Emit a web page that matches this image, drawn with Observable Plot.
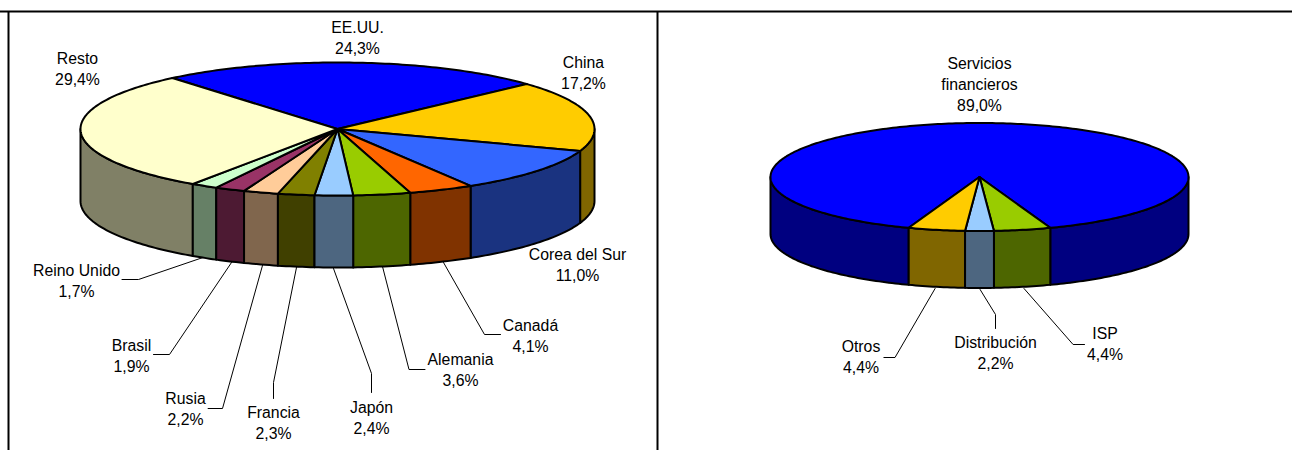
<!DOCTYPE html>
<html>
<head>
<meta charset="utf-8">
<style>html,body{margin:0;padding:0;background:#fff}svg{display:block}</style>
<script src="https://cdn.jsdelivr.net/npm/d3@7"></script>
<script src="https://cdn.jsdelivr.net/npm/@observablehq/plot@0.6"></script>
</head>
<body>
<div id="chart"></div>
<script>
// Data
const countryNames = ["EE.UU.","China","Corea del Sur","Canadá","Alemania","Japón","Francia","Rusia","Brasil","Reino Unido","Resto"];
const countryValues = [24.3,17.2,11.0,4.1,3.6,2.4,2.3,2.2,1.9,1.7,29.4];
const countryColors = ["#0000FF","#FFCC00","#3366FF","#FF6600","#99CC00","#99CCFF","#808000","#FFCC99","#993366","#CCFFCC","#FFFFCC"];
const sectorNames = ["Servicios\nfinancieros","ISP","Distribución","Otros"];
const sectorValues = [89.0,4.4,2.2,4.4];
const sectorColors = ["#0000FF","#99CC00","#99CCFF","#FFCC00"];

// Layout (not data)
const W = 1292, H = 450;
const leftPie  = {cx:337, cy:128.5, rx:257, ry:66.5, depth:72, start:320};
const rightPie = {cx:979, cy:176.5, rx:209, ry:54,   depth:57, start:199.8};
const countryLabelPos = [[357,36],[583,71],[577,263],[530,334],[460,368],[371,416],[273,421],[185,407],[131,354],[76,279],[77,67]];
const sectorLabelPos  = [[979,83],[1104.5,342],[995,351],[860.5,355]];
const countryLeaders = [
  null,null,null,
  [[443,262],[484,334],[500,334]],
  [[382,266],[408.5,369],[424.5,369]],
  [[333,268],[371,373],[371,392]],
  [[296,267],[273,382],[273,398]],
  [[262,265],[222,408],[207.6,408]],
  [[231,262],[169,354],[153,354]],
  [[202.5,257],[138,279],[121.5,279]],
  null
];
const sectorLeaders = [
  null,
  [[1023.5,288],[1072.6,344],[1084,344]],
  [[979.6,289],[995,314],[995,328]],
  [[934.6,288],[894.5,357],[883.4,357]]
];

const pct = v => v.toFixed(1).replace(".", ",") + "%";
const half = c => { const r = d3.rgb(c); return d3.rgb(r.r/2, r.g/2, r.b/2).formatHex(); };

function pieGeometry(names, values, colors, pie, labelPos, leaders, id) {
  const pt = (deg, dz = 0) => {
    const a = deg * Math.PI / 180;
    return {x: pie.cx + pie.rx * Math.sin(a), y: pie.cy - pie.ry * Math.cos(a) + dz};
  };
  const arcs = d3.pie().sort(null)
    .startAngle(pie.start * Math.PI / 180)
    .endAngle((pie.start + 360) * Math.PI / 180)(values);
  const arcPts = (a0, a1, dz) => {
    const n = Math.max(2, Math.ceil(Math.abs(a1 - a0)));
    return d3.range(n + 1).map(i => pt(a0 + (a1 - a0) * i / n, dz));
  };
  const sides = [], tops = [], labels = [], lines = [];
  arcs.forEach((arc, i) => {
    const a0 = arc.startAngle * 180 / Math.PI, a1 = arc.endAngle * 180 / Math.PI;
    [-360, 0, 360].forEach(k => {
      const s = Math.max(a0, 90 + k), e = Math.min(a1, 270 + k);
      if (e > s) {
        const ring = [...arcPts(s, e, 0), ...arcPts(e, s, pie.depth)];
        ring.push(ring[0]);
        // depth ordering: sides nearest the front are drawn last
        const order = -Math.abs(((s + e) / 2 - k) - 180);
        sides.push({order, key: `${id}-s${i}-${k}`, fill: half(colors[i]), ring});
      }
    });
    const c = {x: pie.cx, y: pie.cy};
    tops.push(...[c, ...arcPts(a0, a1, 0), c].map(p => ({...p, key: `${id}-t${i}`, fill: colors[i]})));
    labels.push({x: labelPos[i][0], y: labelPos[i][1], text: `${names[i]}\n${pct(values[i])}`});
    if (leaders[i]) leaders[i].forEach(p => lines.push({x: p[0], y: p[1], key: `${id}-l${i}`}));
  });
  sides.sort((a, b) => a.order - b.order);
  const sideRows = sides.flatMap(s => s.ring.map(p => ({...p, key: s.key, fill: s.fill})));
  return {sideRows, tops, labels, lines};
}

const A = pieGeometry(countryNames, countryValues, countryColors, leftPie, countryLabelPos, countryLeaders, "a");
const B = pieGeometry(sectorNames, sectorValues, sectorColors, rightPie, sectorLabelPos, sectorLeaders, "b");
const sideRows = [...A.sideRows, ...B.sideRows];
const topRows = [...A.tops, ...B.tops];
const labelRows = [...A.labels, ...B.labels];
const leaderRows = [...A.lines, ...B.lines];

const chart = Plot.plot({
  width: W, height: H,
  marginTop: 0, marginRight: 0, marginBottom: 0, marginLeft: 0,
  style: {background: "#fff", overflow: "hidden"},
  x: {domain: [0, W], range: [0, W], axis: null},
  y: {domain: [0, H], range: [0, H], axis: null},
  color: {type: "identity"},
  marks: [
    Plot.ruleY([11], {stroke: "#000", strokeWidth: 2}),
    Plot.ruleX([8, 657], {y1: 11, y2: H, stroke: "#000", strokeWidth: 2}),
    Plot.line(leaderRows, {x: "x", y: "y", z: "key", stroke: "#000", strokeWidth: 1, curve: "linear"}),
    Plot.line(sideRows, {x: "x", y: "y", z: "key", fill: "fill", stroke: "#000", strokeWidth: 2, strokeLinejoin: "round", curve: "linear"}),
    Plot.line(topRows, {x: "x", y: "y", z: "key", fill: "fill", stroke: "#000", strokeWidth: 2, strokeLinejoin: "round", curve: "linear"}),
    Plot.text(labelRows, {x: "x", y: "y", text: "text", fill: "#000", textAnchor: "middle", lineAnchor: "middle",
      lineHeight: 1.32, fontSize: 15.8, fontFamily: "'Liberation Sans', Arial, sans-serif"})
  ]
});
document.getElementById("chart").append(chart);
</script>
</body>
</html>
